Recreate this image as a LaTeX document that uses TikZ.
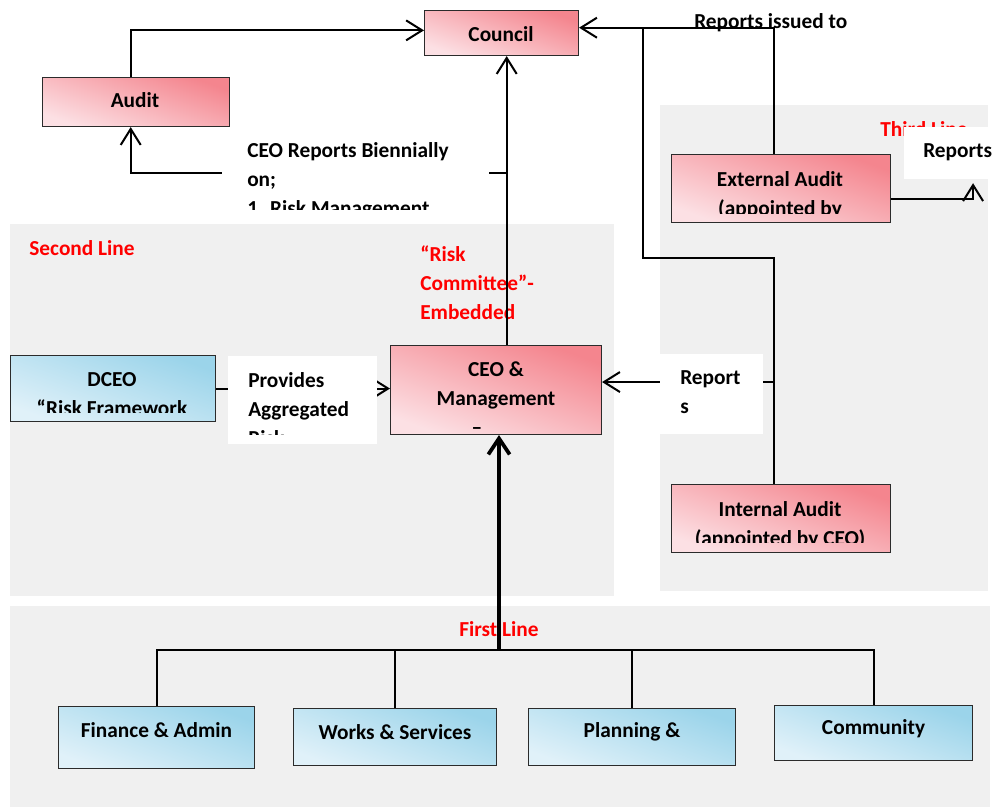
\documentclass[tikz,border=0pt]{standalone}
\usepackage{fontspec}
\setmainfont{Carlito}
\usetikzlibrary{arrows.meta}
\definecolor{panelgray}{HTML}{F0F0F0}
\definecolor{pinkdark}{HTML}{F4858E}
\definecolor{pinklight}{HTML}{FCE0E4}
\definecolor{bluedark}{HTML}{9BD4EA}
\definecolor{bluelight}{HTML}{E0F1F9}
\definecolor{boxline}{HTML}{2B2B2B}
\pgfdeclarelayer{bg}
\pgfdeclarelayer{wires}
\pgfsetlayers{bg,wires,main}
\tikzset{
  panel/.style={fill=panelgray},
  pinkbox/.style={draw=boxline, line width=0.8pt, top color=pinkdark, bottom color=pinklight, shading angle=-20, anchor=north west, inner sep=0pt},
  bluebox/.style={draw=boxline, line width=0.8pt, top color=bluedark, bottom color=bluelight, shading angle=-20, anchor=north west, inner sep=0pt},
  whitebox/.style={fill=white, anchor=north west, inner sep=0pt},
  lbl/.style={font=\bfseries\fontsize{16}{21.75}\selectfont, inner sep=0pt},
  redlbl/.style={lbl, text=red},
  link/.style={line width=1.5pt},
  feed/.style={link, -{Straight Barb[length=12pt,width=15pt]}},
}
\begin{document}
\begin{tikzpicture}[x=0.75pt, y=-0.75pt]
    \useasboundingbox (0,0) rectangle (992,807);

    % 三道防线的底板
    \begin{pgfonlayer}{bg}
        \fill[panel] (10,224) rectangle (614,596);
        \fill[panel] (660,105) rectangle (988,591);
        \fill[panel] (10,606) rectangle (990,807);
        \node[redlbl] (second-t) at (82,248) {Second Line};
        \node[redlbl, anchor=west, align=left] (committee-t) at (420,282.5) {“Risk\\Committee”-\\Embedded};
        \node[redlbl, anchor=west] (third-t) at (880,129) {Third Line};
        \node[redlbl] (first-t) at (499,629) {First Line};
    \end{pgfonlayer}

    % 上层方框
    \node[pinkbox, minimum width=115.5pt, minimum height=33.75pt] (council) at (424,10) {};
    \node[lbl] (council-t) at (501,34) {Council};
    \node[pinkbox, minimum width=140.25pt, minimum height=36.75pt] (audit) at (42,77) {};
    \node[lbl] (audit-t) at (135,100) {Audit};
    \node[pinkbox, minimum width=164.25pt, minimum height=51pt] (extaudit) at (671,154) {};
    \begin{scope}
        \clip (extaudit.north west) rectangle ([yshift=7.5pt]extaudit.south east);
        \node[lbl, align=center] (extaudit-t) at (780,195) {External Audit\\(appointed by};
    \end{scope}
    \node[pinkbox, minimum width=164.25pt, minimum height=51pt] (intaudit) at (671,484) {};
    \begin{scope}
        \clip (intaudit.north west) rectangle ([yshift=8.25pt]intaudit.south east);
        \node[lbl, align=center] (intaudit-t) at (780,525) {Internal Audit\\(appointed by CEO)};
    \end{scope}
    \node[pinkbox, minimum width=158.25pt, minimum height=66.75pt] (ceo) at (390,345) {};
    \begin{scope}
        \clip (ceo.north west) rectangle (ceo.south east);
        \node[lbl, align=center] (ceo-t) at (496,398) {CEO \&\\Management\\–\rule{28.5pt}{0pt}};
    \end{scope}
    \node[bluebox, minimum width=153.75pt, minimum height=49.5pt] (dceo) at (10,355) {};
    \begin{scope}
        \clip (dceo.north west) rectangle ([yshift=7.5pt]dceo.south east);
        \node[lbl, align=center] (dceo-t) at (112,394.5) {DCEO\\“Risk Framework};
    \end{scope}

    % 第一道防线的部门
    \foreach \n/\x/\y/\w/\h/\t in {finance/58/706/147/46.5/Finance \& Admin,
        works/293/708/152.25/42.75/Works \& Services,
        planning/528/708/155.25/42.75/Planning \&,
        community/774/705/148.5/41.25/Community} {
        \node[bluebox, minimum width=\w pt, minimum height=\h pt] (\n) at (\x,\y) {};
        \node[lbl] (\n-t) at ([yshift=-18pt]\n.north) {\t};
    }

    % 白底说明框
    \node[whitebox, minimum width=200.25pt, minimum height=63.75pt] (bienn) at (222,130) {};
    \begin{scope}
        \clip (bienn.north west) rectangle ([yshift=4.5pt]bienn.south east);
        \node[lbl, anchor=west, align=left] (bienn-t) at (247,180.5) {CEO Reports Biennially\\on;\\1. Risk Management};
    \end{scope}
    \node[whitebox, minimum width=111.75pt, minimum height=66pt] (provides) at (228,356) {};
    \begin{scope}
        \clip (provides.north west) rectangle ([yshift=7.5pt]provides.south east);
        \node[lbl, anchor=west, align=left] (provides-t) at (248,409) {Provides\\Aggregated\\Risk};
    \end{scope}
    \node[whitebox, minimum width=77.25pt, minimum height=60pt] (repmid) at (660,354) {};
    \node[lbl, anchor=west, align=left] (repmid-t) at (680,392.5) {Report\\s};
    \node[whitebox, minimum width=66pt, minimum height=39pt] (repright) at (904,127) {};
    \node[lbl, anchor=west] (repright-t) at (923,152) {Reports};
    \node[lbl, anchor=west] (issued-t) at (694,22.5) {Reports issued to};

    % 连线
    \begin{pgfonlayer}{wires}
        \draw[feed] ([xshift=-4pt]audit.north) |- ([yshift=2pt]council.west);
        \draw[feed] ([xshift=8pt]ceo.north) -- ([xshift=8pt]ceo.north |- council.south);
        \coordinate (ceojoin) at ([xshift=8pt]ceo.north |- bienn.east);
        \draw[feed] (ceojoin) -| ([xshift=-4pt]audit.south);
        \draw[feed] (dceo.east) -- (dceo.east -| ceo.west);
        \coordinate (bus) at (499,650);
        \draw[line width=2.8pt, -{Straight Barb[length=12pt,width=16pt]}] (bus) -- (bus |- ceo.south);
        \draw[link] (finance.north) |- (bus) -| (community.north);
        \draw[link] (works.north) -- (works.north |- bus);
        \draw[link] (planning.north) -- (planning.north |- bus);
        \coordinate (ia) at ([xshift=-5.5pt]intaudit.north);
        \coordinate (issued) at ([yshift=4pt]council.east);
        \draw[feed] (ia |- extaudit.north) |- (issued);
        \coordinate (bend) at (643,258);
        \draw[link] (ia) |- (bend) -- (bend |- issued);
        \coordinate (ceoin) at ([yshift=6pt]ceo.east);
        \draw[feed] (ceoin -| ia) -- (ceoin);
        \draw[feed] ([yshift=-8pt]extaudit.east) -- ++(82,0) -- ++(0,-16);
    \end{pgfonlayer}
\end{tikzpicture}
\end{document}
